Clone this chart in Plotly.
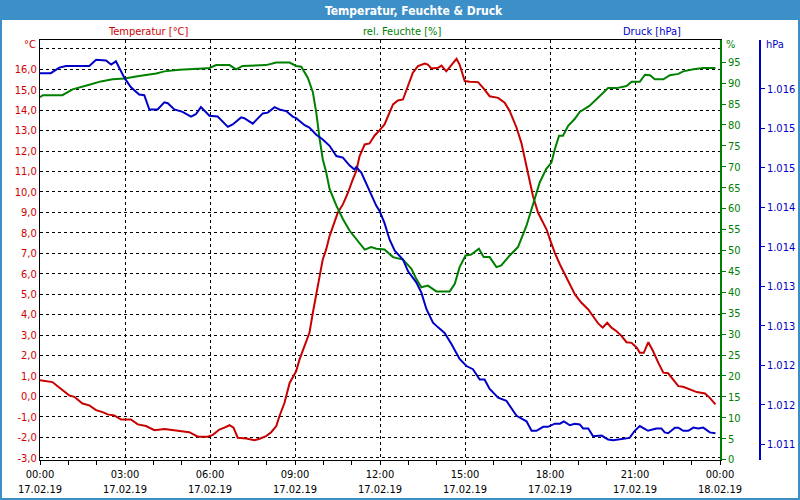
import pandas as pd
import plotly.graph_objects as go

# ---------------- data ----------------
BASE = "2019-02-17 00:00"

temp_hours = [0.00, 0.44, 0.62, 0.86, 1.03, 1.21, 1.50, 1.74, 1.98, 2.21, 2.39, 2.62, 2.86, 3.21,
              3.45, 3.74, 4.04, 4.39, 4.68, 5.04, 5.27, 5.57, 5.92, 6.10, 6.33, 6.51, 6.69, 6.83,
              6.98, 7.28, 7.57, 7.75, 7.98, 8.16, 8.34, 8.45, 8.63, 8.81, 9.04, 9.16, 9.34, 9.51,
              9.63, 9.75, 9.87, 9.98, 10.10, 10.22, 10.40, 10.51, 10.69, 10.87, 11.04, 11.16,
              11.28, 11.46, 11.63, 11.81, 11.99, 12.16, 12.46, 12.63, 12.81, 12.99, 13.16, 13.34,
              13.58, 13.69, 13.81, 14.05, 14.17, 14.34, 14.52, 14.70, 14.81, 14.99, 15.17, 15.46,
              15.64, 15.87, 16.17, 16.40, 16.58, 16.82, 16.99, 17.11, 17.23, 17.40, 17.58, 17.76,
              17.88, 18.00, 18.17, 18.35, 18.53, 18.70, 18.88, 19.11, 19.35, 19.52, 19.70, 19.86,
              20.02, 20.17, 20.35, 20.53, 20.70, 20.88, 21.06, 21.17, 21.31, 21.47, 21.64, 21.82,
              22.00, 22.17, 22.35, 22.53, 22.70, 22.94, 23.18, 23.47, 23.64, 23.84]
temp_values = [0.79, 0.70, 0.50, 0.26, 0.05, -0.02, -0.35, -0.44, -0.67, -0.77, -0.88, -0.93, -1.13, -1.13,
               -1.37, -1.45, -1.65, -1.60, -1.65, -1.70, -1.75, -1.97, -1.97, -1.88, -1.62, -1.53, -1.41, -1.53,
               -2.02, -2.06, -2.14, -2.07, -1.94, -1.75, -1.45, -0.97, -0.31, 0.66, 1.23, 1.81, 2.46, 3.11,
               4.09, 5.07, 5.88, 6.70, 7.19, 7.84, 8.49, 8.98, 9.39, 9.96, 10.61, 11.01,
               11.75, 12.32, 12.37, 12.76, 13.02, 13.30, 14.28, 14.47, 14.52, 15.17, 15.83, 16.15,
               16.28, 16.23, 16.04, 16.07, 16.18, 15.90, 16.23, 16.51, 16.23, 15.42, 15.39, 15.37,
               15.09, 14.68, 14.60, 14.36, 13.95, 13.14, 12.40, 11.59, 10.77, 9.79, 8.98, 8.49,
               8.16, 7.67, 7.02, 6.45, 5.96, 5.47, 4.99, 4.58, 4.25, 3.92, 3.57, 3.36,
               3.60, 3.36, 3.19, 2.95, 2.65, 2.62, 2.38, 2.13, 2.13, 2.65, 2.21, 1.65,
               1.16, 1.13, 0.83, 0.50, 0.47, 0.34, 0.21, 0.14, -0.07, -0.39]

hum_hours = [0.00, 0.10, 0.79, 1.15, 1.74, 2.15, 2.56, 2.98, 3.50, 4.10, 4.39, 4.92, 5.74, 5.98,
             6.22, 6.69, 6.92, 7.15, 7.98, 8.34, 8.81, 9.04, 9.22, 9.45, 9.63, 9.75, 9.87, 9.98,
             10.10, 10.22, 10.46, 10.69, 10.93, 11.16, 11.46, 11.69, 11.87, 12.16, 12.46, 12.81,
             13.11, 13.28, 13.46, 13.69, 13.99, 14.46, 14.64, 14.81, 15.02, 15.22, 15.49, 15.66,
             15.87, 16.11, 16.28, 16.58, 16.87, 17.17, 17.40, 17.64, 17.87, 18.05, 18.17, 18.32,
             18.46, 18.64, 18.87, 19.05, 19.40, 19.76, 20.05, 20.35, 20.70, 20.88, 21.17, 21.35,
             21.53, 21.70, 22.00, 22.23, 22.53, 22.70, 23.06, 23.41, 23.84]
hum_values = [86.6, 87.1, 87.1, 88.5, 89.6, 90.4, 90.9, 91.1, 91.7, 92.3, 92.8, 93.2, 93.5, 93.6,
              94.3, 94.3, 93.3, 94.1, 94.3, 94.9, 94.9, 94.1, 93.9, 91.3, 87.8, 83.0, 76.6, 71.8,
              68.7, 64.7, 60.7, 57.5, 54.7, 52.7, 50.2, 50.8, 50.4, 50.2, 48.4, 47.8,
              45.6, 43.2, 41.2, 41.6, 40.2, 40.2, 42.0, 46.0, 48.8, 49.0, 50.4, 48.4,
              48.4, 46.0, 46.4, 48.8, 50.8, 55.9, 61.1, 66.3, 69.5, 71.0, 74.2, 77.4,
              77.4, 79.8, 81.4, 83.1, 84.6, 86.8, 88.8, 88.8, 89.3, 90.3, 90.3, 92.0,
              91.9, 90.9, 90.9, 91.9, 92.2, 92.8, 93.3, 93.6, 93.6]

press_hours = [0.00, 0.38, 0.68, 0.92, 1.74, 1.86, 1.98, 2.33, 2.51, 2.68, 2.80, 2.98, 3.21, 3.50,
               3.68, 3.86, 4.15, 4.39, 4.51, 4.74, 5.03, 5.33, 5.50, 5.68, 5.98, 6.27, 6.63, 6.80,
               7.10, 7.21, 7.51, 7.86, 8.04, 8.28, 8.45, 8.69, 8.92, 9.04, 9.34, 9.51, 9.75, 9.98,
               10.22, 10.46, 10.69, 10.93, 11.10, 11.16, 11.34, 11.63, 11.87, 11.99, 12.16, 12.34,
               12.52, 12.81, 12.99, 13.28, 13.46, 13.64, 13.87, 14.05, 14.28, 14.52, 14.81, 15.05,
               15.28, 15.52, 15.69, 15.87, 16.17, 16.46, 16.82, 17.17, 17.35, 17.52, 17.76, 17.93,
               18.17, 18.35, 18.49, 18.70, 18.87, 19.05, 19.17, 19.35, 19.52, 19.82, 20.05, 20.23,
               20.58, 20.81, 20.99, 21.17, 21.46, 21.75, 21.93, 22.05, 22.17, 22.41, 22.53, 22.70,
               22.88, 23.06, 23.23, 23.41, 23.64, 23.84]
press_values = [1016.20, 1016.20, 1016.27, 1016.29, 1016.29, 1016.33, 1016.37, 1016.36, 1016.31, 1016.35,
                1016.27, 1016.14, 1016.02, 1015.93, 1015.92, 1015.74, 1015.74, 1015.83, 1015.82, 1015.74,
                1015.71, 1015.65, 1015.68, 1015.77, 1015.66, 1015.65, 1015.52, 1015.55, 1015.64, 1015.63,
                1015.56, 1015.69, 1015.70, 1015.77, 1015.74, 1015.72, 1015.65, 1015.63, 1015.54, 1015.51,
                1015.42, 1015.36, 1015.28, 1015.15, 1015.13, 1015.03, 1014.98, 1015.01, 1014.94, 1014.71,
                1014.52, 1014.45, 1014.30, 1014.09, 1013.95, 1013.84, 1013.69, 1013.55, 1013.42, 1013.21,
                1013.04, 1012.98, 1012.91, 1012.77, 1012.58, 1012.49, 1012.45, 1012.32, 1012.32, 1012.20,
                1012.09, 1012.05, 1011.86, 1011.79, 1011.67, 1011.67, 1011.72, 1011.72, 1011.76, 1011.76,
                1011.79, 1011.74, 1011.76, 1011.75, 1011.70, 1011.70, 1011.60, 1011.61, 1011.56, 1011.55,
                1011.57, 1011.58, 1011.67, 1011.73, 1011.67, 1011.70, 1011.70, 1011.65, 1011.64, 1011.71,
                1011.71, 1011.67, 1011.67, 1011.71, 1011.70, 1011.71, 1011.65, 1011.64]

x_tick_values = ["2019-02-17 00:00", "2019-02-17 03:00", "2019-02-17 06:00", "2019-02-17 09:00",
                 "2019-02-17 12:00", "2019-02-17 15:00", "2019-02-17 18:00", "2019-02-17 21:00",
                 "2019-02-18 00:00"]
x_tick_labels = ["00:00<br>17.02.19", "03:00<br>17.02.19", "06:00<br>17.02.19", "09:00<br>17.02.19",
                 "12:00<br>17.02.19", "15:00<br>17.02.19", "18:00<br>17.02.19", "21:00<br>17.02.19",
                 "00:00<br>18.02.19"]

temp_tick_values = [-3, -2, -1, 0, 1, 2, 3, 4, 5, 6, 7, 8, 9, 10, 11, 12, 13, 14, 15, 16, 17]
temp_tick_labels = ["-3,0", "-2,0", "-1,0", "0,0", "1,0", "2,0", "3,0", "4,0", "5,0", "6,0", "7,0",
                    "8,0", "9,0", "10,0", "11,0", "12,0", "13,0", "14,0", "15,0", "16,0", ""]

hum_tick_values = [0, 5, 10, 15, 20, 25, 30, 35, 40, 45, 50, 55, 60, 65, 70, 75, 80, 85, 90, 95]
hum_tick_labels = [str(v) for v in hum_tick_values]

press_tick_values = [1011.5, 1012.0, 1012.5, 1013.0, 1013.5, 1014.0, 1014.5, 1015.0, 1015.5, 1016.0]
press_tick_labels = ["1.011", "1.012", "1.012", "1.013", "1.013", "1.014", "1.014", "1.015", "1.015", "1.016"]

title_text = "Temperatur, Feuchte & Druck"
series_names = ["Temperatur [°C]", "rel. Feuchte [%]", "Druck [hPa]"]
unit_labels = ["°C", "%", "hPa"]

# ---------------- styling ----------------
RED, GREEN, BLUE = "#c80000", "#008000", "#0000c8"
BAR = "#3d8fc8"
FONT = "DejaVu Sans Condensed, DejaVu Sans, sans-serif"
W, H = 800, 500
ML, MR, MT, MB = 40, 10, 40, 40
PW, PH = W - ML - MR, H - MT - MB


def px(x):
    return (x - ML) / PW


def py(y):
    return (H - MB - y) / PH


def times(hours):
    return pd.Timestamp(BASE) + pd.to_timedelta(hours, unit="h")


fig = go.Figure()
fig.add_trace(go.Scatter(x=times(hum_hours), y=hum_values, yaxis="y2", mode="lines",
                         line=dict(color=GREEN, width=2), name=series_names[1]))
fig.add_trace(go.Scatter(x=times(press_hours), y=press_values, yaxis="y3", mode="lines",
                         line=dict(color=BLUE, width=2), name=series_names[2]))
fig.add_trace(go.Scatter(x=times(temp_hours), y=temp_values, yaxis="y", mode="lines",
                         line=dict(color=RED, width=2), name=series_names[0]))

fig.update_layout(
    width=W, height=H,
    margin=dict(l=ML, r=MR, t=MT, b=MB, pad=0),
    paper_bgcolor="white", plot_bgcolor="white",
    showlegend=False,
    font=dict(family=FONT, size=11, color="black"),
    xaxis=dict(
        type="date", domain=[0, 680 / PW],
        range=[x_tick_values[0], x_tick_values[-1]],
        tickmode="array", tickvals=x_tick_values, ticktext=x_tick_labels,
        ticks="outside", ticklen=4, tickcolor="black",
        minor=dict(tickmode="linear", tick0=x_tick_values[0], dtick=3600000,
                   ticks="outside", ticklen=4, tickcolor="black", showgrid=False),
        showline=True, linecolor="black", linewidth=1, mirror=True,
        showgrid=True, gridcolor="black", gridwidth=1, griddash="3px,3px",
        tickfont=dict(color="black", size=11), zeroline=False, automargin=False,
    ),
    yaxis=dict(
        range=[-3.11, 17.43], tickmode="array", tickvals=temp_tick_values, ticktext=temp_tick_labels,
        showline=True, linecolor="black", linewidth=1, ticks="",
        showgrid=True, gridcolor="black", gridwidth=1, griddash="3px,3px",
        tickfont=dict(color="#d00000", size=11), zeroline=False, automargin=False,
    ),
    yaxis2=dict(
        overlaying="y", side="right", anchor="x",
        range=[-0.1, 100.3], tickmode="array", tickvals=hum_tick_values, ticktext=hum_tick_labels,
        showline=True, linecolor=GREEN, linewidth=1.5, ticks="outside", ticklen=4, tickcolor=GREEN,
        showgrid=False, zeroline=False, tickfont=dict(color=GREEN, size=11), automargin=False,
    ),
    yaxis3=dict(
        overlaying="y", side="right", anchor="free", position=(760 - ML) / PW,
        range=[1011.30, 1016.62], tickmode="array", tickvals=press_tick_values, ticktext=press_tick_labels,
        showline=True, linecolor=BLUE, linewidth=1.5, ticks="outside", ticklen=4, tickcolor=BLUE,
        showgrid=False, zeroline=False, tickfont=dict(color=BLUE, size=11), automargin=False,
    ),
)

# title bar and outer frame
fig.add_shape(type="rect", xref="paper", yref="paper", x0=px(0), x1=px(800), y0=py(20), y1=py(0),
              fillcolor=BAR, line=dict(width=0), layer="above")
fig.add_shape(type="rect", xref="paper", yref="paper", x0=px(1), x1=px(799), y0=py(499), y1=py(1),
              fillcolor="rgba(0,0,0,0)", line=dict(color=BAR, width=2), layer="above")

ann = [
    dict(text=title_text, x=px(414), y=py(10.5), xanchor="center",
         font=dict(color="white", size=12, family="DejaVu Sans Condensed, DejaVu Sans", weight="bold")),
    dict(text=series_names[0], x=px(148), y=py(31), xanchor="center", font=dict(color="#d00000", size=11)),
    dict(text=series_names[1], x=px(402), y=py(31), xanchor="center", font=dict(color=GREEN, size=11)),
    dict(text=series_names[2], x=px(652), y=py(31), xanchor="center", font=dict(color=BLUE, size=11)),
    dict(text=unit_labels[0], x=px(38), y=py(45), xanchor="right", font=dict(color="#d00000", size=11)),
    dict(text=unit_labels[1], x=px(724), y=py(45), xanchor="left", font=dict(color=GREEN, size=11)),
    dict(text=unit_labels[2], x=px(764), y=py(45), xanchor="left", font=dict(color=BLUE, size=11)),
]
for a in ann:
    fig.add_annotation(xref="paper", yref="paper", yanchor="middle", showarrow=False, **a)

fig.write_html("out.html")
